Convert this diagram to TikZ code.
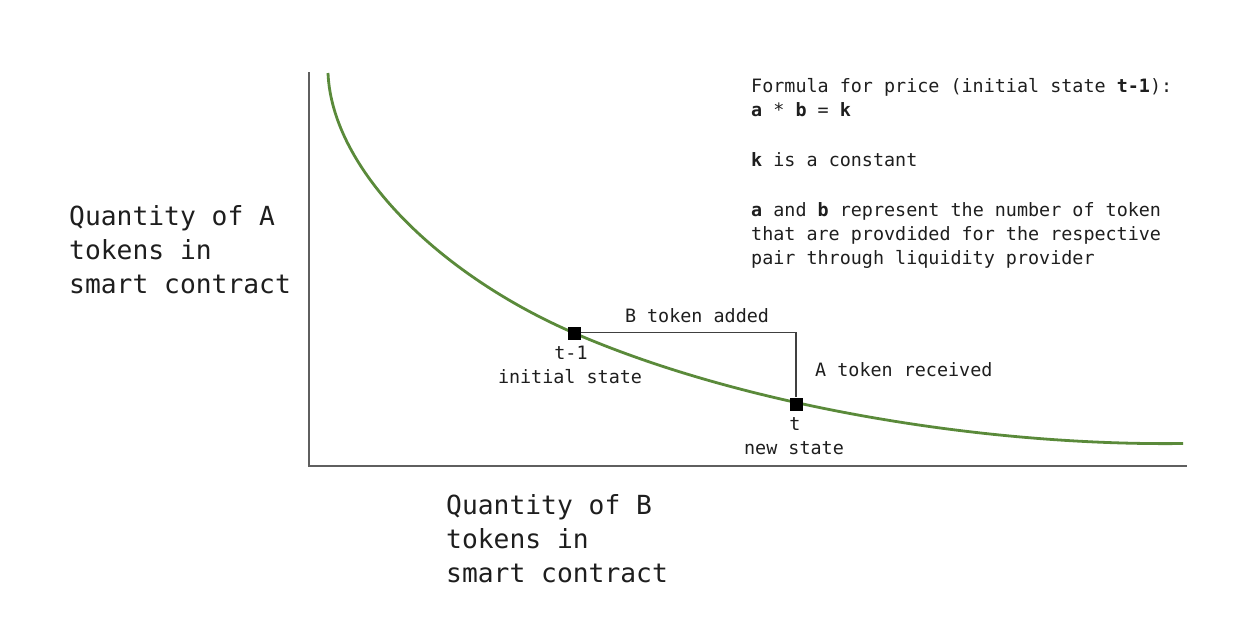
\documentclass[tikz,border=0pt]{standalone}
\usepackage{fontspec}
\setmonofont{DejaVu Sans Mono}
\definecolor{curvegreen}{RGB}{90,138,58}
\definecolor{axisgray}{RGB}{95,95,95}
\definecolor{linegray}{RGB}{64,64,64}
\definecolor{txt}{RGB}{30,30,30}
\begin{document}
\begin{tikzpicture}[x=1pt,y=-1pt,
  note/.style={font=\ttfamily\fontsize{18.4}{24}\selectfont, text=txt, inner sep=0, anchor=base west},
  big/.style={font=\ttfamily\fontsize{26.3}{34}\selectfont, text=txt, inner sep=0, anchor=base west},
  lbl/.style={font=\ttfamily\fontsize{18.4}{24}\selectfont, text=txt, inner sep=0, anchor=base},
  statebox/.style={fill=black, minimum size=13pt, inner sep=0},
  axis/.style={draw=axisgray, line width=1.8pt},
  bracket/.style={draw=linegray, line width=1.4pt},
  curve/.style={draw=curvegreen, line width=2.8pt}
  ]
\useasboundingbox (0,0) rectangle (1244,630);

% axes
\coordinate (ytop) at (309,72);
\coordinate (orig) at (309,466);
\coordinate (xend) at (1187,466);
\draw[axis] (ytop) -- (orig) -- (xend);

% curve
\coordinate (cstart) at (328,73);
\coordinate (cmid) at (574,333);
\coordinate (cend) at (1183,443.5);
\draw[curve] (cstart) .. controls (332,170) and (440,275) .. (cmid)
  .. controls (740,405) and (980,446) .. (cend);

% states
\node[statebox] (s1) at (574,333) {};
\node[statebox] (s0) at (796,404) {};
\draw[bracket] (s1.east |- 0,332.3) -| (s0.north);

% labels near states
\node[lbl] (badd) at (697,322.7) {B token added};
\node[lbl] (t1) at (571,359.3) {t-1};
\node[lbl] (init) at (570,383.3) {initial state};
\node[note] (arec) at (815,376) {A token received};
\node[lbl] (t0) at (795,430) {t};
\node[lbl] (news) at (794,454) {new state};

% formula block
\node[note] (f1) at (751,92.7) {Formula for price (initial state \textbf{t-1}):};
\node[note] (f2) at (751,116.7) {\textbf{a} * \textbf{b} = \textbf{k}};
\node[note] (f3) at (751,166.7) {\textbf{k} is a constant};
\node[note] (f4) at (751,216.7) {\textbf{a} and \textbf{b} represent the number of token};
\node[note] (f5) at (751,240.7) {that are provdided for the respective};
\node[note] (f6) at (751,264.7) {pair through liquidity provider};

% axis labels
\node[big] (qa1) at (69,225.7) {Quantity of A};
\node[big] (qa2) at (69,259.7) {tokens in};
\node[big] (qa3) at (69,293.7) {smart contract};
\node[big] (qb1) at (446,514) {Quantity of B};
\node[big] (qb2) at (446,548) {tokens in};
\node[big] (qb3) at (446,582) {smart contract};
\end{tikzpicture}
\end{document}
